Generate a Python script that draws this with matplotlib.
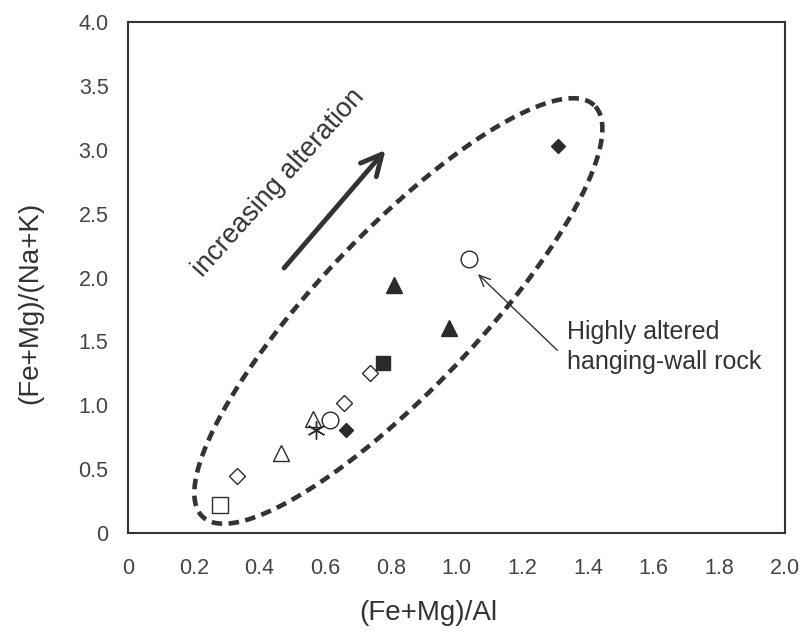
import numpy as np
import matplotlib
matplotlib.use("Agg")
import matplotlib.pyplot as plt

plt.rcParams['font.family'] = ['Liberation Sans', 'DejaVu Sans']

# Data (x = (Fe+Mg)/Al, y = (Fe+Mg)/(Na+K))
open_square_x = [0.281]
open_square_y = [0.219]
open_diamond_x = [0.333, 0.657, 0.738]
open_diamond_y = [0.446, 1.018, 1.252]
open_triangle_x = [0.466, 0.563]
open_triangle_y = [0.626, 0.892]
asterisk_x = [0.572]
asterisk_y = [0.806]
open_circle_x = [0.614, 1.038]
open_circle_y = [0.885, 2.145]
filled_diamond_x = [0.663, 1.31]
filled_diamond_y = [0.806, 3.03]
filled_square_x = [0.775]
filled_square_y = [1.331]
filled_triangle_x = [0.811, 0.977]
filled_triangle_y = [1.941, 1.605]

x_ticks = [0, 0.2, 0.4, 0.6, 0.8, 1.0, 1.2, 1.4, 1.6, 1.8, 2.0]
x_ticklabels = ['0', '0.2', '0.4', '0.6', '0.8', '1.0', '1.2', '1.4', '1.6', '1.8', '2.0']
y_ticks = [0, 0.5, 1.0, 1.5, 2.0, 2.5, 3.0, 3.5, 4.0]
y_ticklabels = ['0', '0.5', '1.0', '1.5', '2.0', '2.5', '3.0', '3.5', '4.0']

ink = '#2a2a2a'
fig = plt.figure(figsize=(8.03, 6.35), dpi=100)
left_px, right_px, top_px, bottom_px = 128, 785, 22, 533
ax = fig.add_axes([left_px/803, 1-bottom_px/635, (right_px-left_px)/803, (bottom_px-top_px)/635])
ax.set_xlim(0, 2.0)
ax.set_ylim(0, 4.0)

ms_kw = dict(linestyle='none', markeredgecolor=ink, markeredgewidth=1.0)
ax.plot(open_square_x, open_square_y, marker='s', markersize=12, markerfacecolor='white', **ms_kw)
ax.plot(open_diamond_x, open_diamond_y, marker='D', markersize=8, markerfacecolor='white', **ms_kw)
ax.plot(open_triangle_x, open_triangle_y, marker='^', markersize=12, markerfacecolor='white', **ms_kw)
ax.plot(open_circle_x, open_circle_y, marker='o', markersize=12, markerfacecolor='white', **ms_kw)
ax.plot(asterisk_x, asterisk_y, marker=(6, 2, 0), markersize=13, color=ink, linestyle='none', markeredgewidth=1.0)
ax.plot(filled_diamond_x, filled_diamond_y, marker='D', markersize=7.5, markerfacecolor=ink, **ms_kw)
ax.plot(filled_square_x, filled_square_y, marker='s', markersize=10, markerfacecolor=ink, **ms_kw)
ax.plot(filled_triangle_x, filled_triangle_y, marker='^', markersize=11, markerfacecolor=ink, **ms_kw)

# Dashed ellipse (defined in pixel-like units, converted to data units)
sx = (right_px - left_px) / 2.0   # px per x unit
sy = (bottom_px - top_px) / 4.0   # px per y unit
cx, cy = 0.823, 1.738
a_px, b_px, th = 284, 79, np.deg2rad(46.4)
t = np.linspace(0, 2*np.pi, 400)
ex = cx + (a_px*np.cos(t)*np.cos(th) - b_px*np.sin(t)*np.sin(th)) / sx
ey = cy + (a_px*np.cos(t)*np.sin(th) + b_px*np.sin(t)*np.cos(th)) / sy
ax.plot(ex, ey, color='#333333', lw=3.3, dashes=(2.3, 1.4), solid_capstyle='butt', dash_capstyle='butt')

# Big arrow
ax.annotate('', xy=(0.784, 2.998), xytext=(0.475, 2.074),
            arrowprops=dict(arrowstyle='->,head_length=1.5,head_width=0.75', lw=3.5, color='#333333',
                            shrinkA=0, shrinkB=0))
ax.text(0.46, 2.74, 'increasing alteration', rotation=48, rotation_mode='anchor',
        ha='center', va='center', fontsize=19.5, color='#333333')

# Annotation
ax.annotate('', xy=(1.065, 2.027), xytext=(1.307, 1.43),
            arrowprops=dict(arrowstyle='->,head_length=0.8,head_width=0.35', lw=1.0, color='#333333',
                            shrinkA=0, shrinkB=0))
ax.text(1.337, 1.456, 'Highly altered\nhanging-wall rock', ha='left', va='center',
        fontsize=18, color='#333333', linespacing=1.3)

ax.set_xticks(x_ticks)
ax.set_xticklabels(x_ticklabels)
ax.set_yticks(y_ticks)
ax.set_yticklabels(y_ticklabels)
ax.tick_params(axis='both', length=0, labelsize=15.5, colors='#444444')
ax.tick_params(axis='x', pad=18)
ax.tick_params(axis='y', pad=14)
for s in ax.spines.values():
    s.set_linewidth(1.5)
    s.set_color('#333333')

ax.set_xlabel('(Fe+Mg)/Al', fontsize=20, color='#333333')
ax.set_ylabel('(Fe+Mg)/(Na+K)', fontsize=20, color='#333333')
ax.xaxis.set_label_coords(0.457, -0.131)
ax.yaxis.set_label_coords(-0.129, 0.45)

fig.savefig('out.png', dpi=100)
